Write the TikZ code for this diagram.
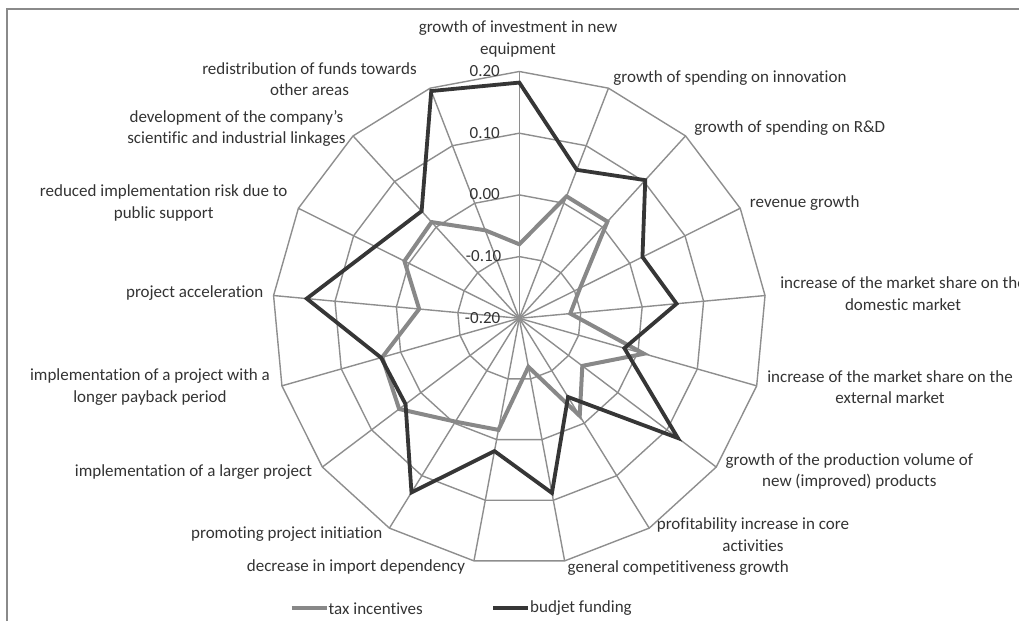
\documentclass[tikz,border=0pt]{standalone}
\usepackage{fontspec}
\setmainfont{Carlito}[Ligatures={NoCommon}]
\definecolor{gridgray}{HTML}{8E8E8E}
\definecolor{taxgray}{HTML}{888888}
\definecolor{budgray}{HTML}{363636}
\definecolor{txtgray}{HTML}{333333}
\definecolor{framegray}{HTML}{8A8A8A}
\begin{document}
\begin{tikzpicture}[x=1pt,y=1pt,
  gridline/.style={draw=gridgray, line width=1.4pt, line join=miter},
  taxline/.style={draw=taxgray, line width=4pt, line join=miter},
  budline/.style={draw=budgray, line width=3.8pt, line join=miter},
  lbl/.style={font=\fontsize{17}{21.5}\selectfont, text=txtgray, align=center, inner sep=0pt},
  ticklbl/.style={font=\fontsize{17}{21.5}\selectfont, text=txtgray, anchor=east, inner sep=0pt}]
\useasboundingbox (0,0) rectangle (1019,621);
% frame
\draw[framegray, line width=2pt] (7.3,0) -- (7.3,612) -- (1019,612);
\def\R{246.8}
\begin{scope}[shift={(519.3,302.7)}]
  \coordinate (C) at (0,0);
  % outer vertices
  \foreach \k in {0,...,16} \coordinate (o\k) at ({90-\k*360/17}:\R);
  % spokes
  \foreach \k in {0,...,16} \draw[gridline] (C) -- (o\k);
  % rings
  \foreach \i in {1,...,4} {
    \draw[gridline] (90:{\i*\R/4}) \foreach \k in {1,...,16}{ -- ({90-\k*360/17}:{\i*\R/4})} -- cycle;
  }
  % tax incentives
  \foreach \v [count=\k from 0] in {-0.08,0.012,0.012,-0.09,-0.117,0.010,-0.072,-0.014,-0.120,-0.016,-0.003,0.044,0.031,-0.037,0.008,0.011,-0.047}
    \coordinate (t\k) at ({90-\k*360/17}:{(\v+0.2)/0.4*\R});
  \draw[taxline] (t0) \foreach \k in {1,...,16}{ -- (t\k)} -- cycle;
  % budget funding
  \foreach \v [count=\k from 0] in {0.182,0.058,0.103,0.023,0.056,-0.023,0.122,-0.050,0.088,0.019,0.132,0.031,0.033,0.146,0.061,0.035,0.195}
    \coordinate (b\k) at ({90-\k*360/17}:{(\v+0.2)/0.4*\R});
  \draw[budline] (b0) \foreach \k in {1,...,16}{ -- (b\k)} -- cycle;
\end{scope}
% tick labels
\node[ticklbl] (y20) at (500,549.5) {0.20};
\node[ticklbl] (y10) at (500,488) {0.10};
\node[ticklbl] (y00) at (500,426.5) {0.00};
\node[ticklbl] (ym10) at (501.5,365) {-0.10};
\node[ticklbl] (ym20) at (500.5,303) {-0.20};
% axis labels
\node[lbl] (l0) at (518,582) {growth of investment in new\\equipment};
\node[lbl] (l1) at (730,543) {growth of spending on innovation};
\node[lbl] (l2) at (789.7,492.7) {growth of spending on R\&D};
\node[lbl] (l3) at (804.7,418.3) {revenue growth};
\node[lbl] (l4) at (903,327.3) {increase of the market share on the\\domestic market};
\node[lbl] (l5) at (890,234) {increase of the market share on the\\external market};
\node[lbl] (l6) at (849.3,149.7) {growth of the production volume of\\new (improved) products};
\node[lbl] (l7) at (753,86.2) {profitability increase in core\\activities};
\node[lbl] (l8) at (678.3,52.7) {general competitiveness growth};
\node[lbl] (l9) at (356,53.7) {decrease in import dependency};
\node[lbl] (l10) at (286.7,87) {promoting project initiation};
\node[lbl] (l11) at (193.5,149.3) {implementation of a larger project};
\node[lbl] (l12) at (150,233.7) {implementation of a project with a\\longer payback period};
\node[lbl] (l13) at (194.7,327.7) {project acceleration};
\node[lbl] (l14) at (163.7,418) {reduced implementation risk due to\\public support};
\node[lbl] (l15) at (236.5,492.5) {development of the company’s\\scientific and industrial linkages};
\node[lbl] (l16) at (309.5,542) {redistribution of funds towards\\other areas};
% legend
\coordinate (lt1) at (291.7,12.7);
\coordinate (lt2) at (326.7,12.7);
\draw[taxline, line width=4.2pt] (lt1) -- (lt2);
\node[lbl, anchor=west] (legtax) at (328.5,12.7) {tax incentives};
\coordinate (lb1) at (493.3,12.7);
\coordinate (lb2) at (528.3,12.7);
\draw[budline, line width=4.2pt] (lb1) -- (lb2);
\node[lbl, anchor=west] (legbud) at (530,12.7) {budjet funding};
\end{tikzpicture}
\end{document}
